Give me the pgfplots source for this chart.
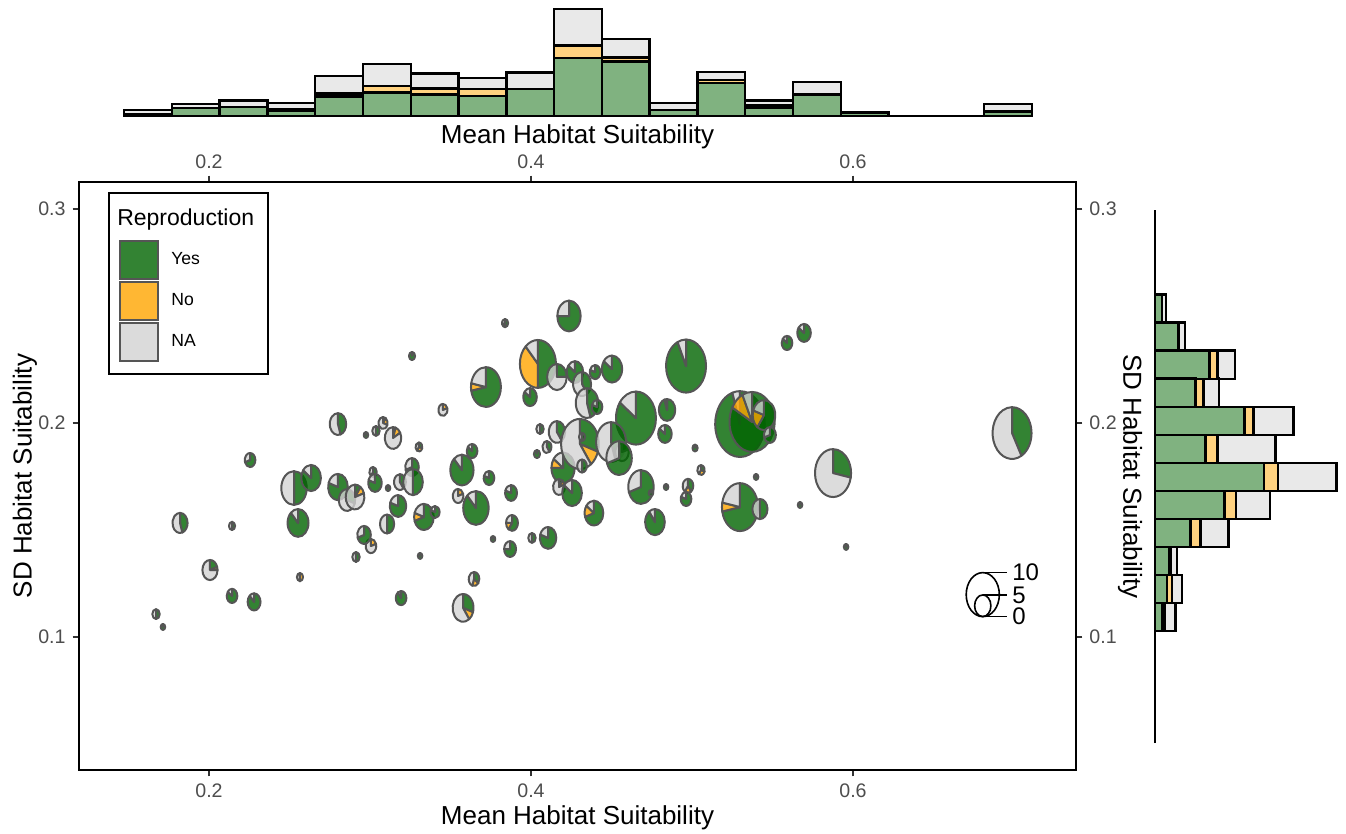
\documentclass[border=0pt]{standalone}
\usepackage{fontspec}
\setmainfont{Liberation Sans}
\usepackage{pgfplots}
\usepackage{pgfplotstable}
\pgfplotsset{compat=1.18}

\definecolor{cyes}{HTML}{006400}
\definecolor{cno}{HTML}{FFA500}
\definecolor{cna}{HTML}{D3D3D3}
\definecolor{hyes}{HTML}{80B280}
\definecolor{hno}{HTML}{FFD280}
\definecolor{hna}{HTML}{E9E9E9}
\definecolor{pieline}{HTML}{555555}
\definecolor{ticklab}{HTML}{4D4D4D}
\definecolor{tickcol}{HTML}{333333}

\pgfdeclareplotmark{pienone}{}
% one slice of an elliptic pie: start angle, end angle, colour
\newcommand\pieslice[3]{%
  \filldraw[fill=#3, fill opacity=0.8, draw=pieline, line width=1pt, line join=round]
    (0pt,0pt) -- (#1:\rx pt and \ry pt)
    arc[start angle=#1, end angle=#2, x radius=\rx pt, y radius=\ry pt] -- cycle;}
\def\pieparse#1/#2/#3\relax{\def\pr{#1}\def\pyes{#2}\def\pno{#3}}

% pies: centre x, y and radius/share Yes/share No (rest is NA)
\pgfplotstableread{
x y m
0.1671 0.1107 0.0023/0.5/0
0.1714 0.1047 0.0014/1/0
0.1820 0.1533 0.0047/0.45/0
0.2006 0.1313 0.0047/0.2/0.05
0.2143 0.1192 0.0033/0.85/0
0.2143 0.1519 0.0019/0.5/0
0.2280 0.1164 0.0040/0.88/0
0.2255 0.1827 0.0033/0.7/0
0.2528 0.1696 0.0079/0.5/0
0.2634 0.1743 0.0061/0.85/0
0.2553 0.1533 0.0065/0.88/0
0.2565 0.1280 0.0019/0/0.5
0.2801 0.1995 0.0051/0.45/0
0.2975 0.1944 0.0014/1/0
0.3037 0.1963 0.0023/0.5/0
0.3081 0.2000 0.0028/0.1/0.2
0.3143 0.1930 0.0051/0.05/0.12
0.3304 0.1888 0.0021/0.3/0.3
0.3261 0.2313 0.0019/1/0
0.2913 0.1374 0.0023/0.5/0
0.3006 0.1425 0.0033/0/0.2
0.2963 0.1477 0.0042/0.7/0
0.3106 0.1528 0.0044/0.5/0
0.3174 0.1612 0.0051/0.8/0
0.3335 0.1561 0.0061/0.7/0.1
0.3404 0.1584 0.0028/0.8/0
0.3193 0.1182 0.0033/0.9/0
0.3311 0.1379 0.0014/1/0
0.2801 0.1701 0.0061/0.8/0
0.2857 0.1640 0.0051/0.3/0
0.2907 0.1654 0.0058/0.1/0.1
0.3019 0.1771 0.0023/0.6/0
0.3031 0.1720 0.0042/0.8/0
0.3112 0.1696 0.0014/1/0
0.3186 0.1724 0.0037/0.4/0
0.3261 0.1794 0.0042/0.7/0
0.3267 0.1724 0.0061/0.5/0
0.3453 0.2061 0.0028/0/0.2
0.3839 0.2467 0.0019/0.5/0.2
0.4236 0.2500 0.0072/0.75/0
0.3720 0.2168 0.0093/0.72/0.06
0.4043 0.2276 0.0112/0.5/0.38
0.3994 0.2121 0.0042/0.85/0
0.4161 0.2215 0.0061/0.25/0
0.4273 0.2238 0.0051/0.85/0
0.4398 0.2238 0.0033/0.8/0
0.4503 0.2252 0.0063/0.85/0
0.4317 0.2182 0.0056/0.4/0
0.4348 0.2093 0.0070/0.45/0
0.4410 0.2075 0.0033/0.8/0
0.4652 0.2023 0.0124/0.85/0
0.4056 0.1972 0.0023/0.5/0
0.4161 0.1958 0.0051/0.4/0
0.4199 0.1790 0.0072/0.75/0.1
0.4304 0.1902 0.0117/0.3/0.1
0.4317 0.1935 0.0019/0.5/0
0.4497 0.1911 0.0093/0.45/0
0.4565 0.1864 0.0042/0.2/0
0.4547 0.1836 0.0079/0.7/0
0.4683 0.1701 0.0079/0.7/0
0.4317 0.1799 0.0030/0.5/0
0.4099 0.1888 0.0028/0.4/0
0.4037 0.1855 0.0019/1/0
0.4174 0.1701 0.0037/0.1/0.1
0.4255 0.1673 0.0061/0.85/0
0.4391 0.1579 0.0058/0.7/0.15
0.3571 0.1780 0.0072/0.88/0
0.3634 0.1869 0.0033/0.85/0
0.3739 0.1743 0.0033/0.8/0
0.3547 0.1659 0.0033/0/0.2
0.3658 0.1603 0.0079/0.88/0
0.3876 0.1673 0.0037/0.8/0
0.3882 0.1533 0.0037/0.6/0.15
0.3764 0.1458 0.0014/1/0
0.4006 0.1463 0.0023/0.5/0
0.4106 0.1463 0.0051/0.8/0
0.3870 0.1411 0.0037/0.75/0
0.3646 0.1271 0.0033/0.35/0.2
0.3578 0.1136 0.0065/0.3/0.1
0.4963 0.2266 0.0124/0.93/0
0.5696 0.2421 0.0042/0.85/0
0.5590 0.2374 0.0033/0.85/0
0.4845 0.2061 0.0051/0.95/0
0.4832 0.1949 0.0042/0.85/0
0.5298 0.1995 0.0154/0.95/0
0.5373 0.2005 0.0140/0.83/0.1
0.5447 0.2037 0.0070/0.6/0.2
0.5484 0.1944 0.0037/0.7/0
0.5876 0.1766 0.0112/0.28/0
0.5298 0.1607 0.0112/0.72/0.06
0.5422 0.1598 0.0047/0.5/0
0.5019 0.1883 0.0016/1/0
0.5056 0.1780 0.0023/0.3/0.3
0.5398 0.1748 0.0014/1/0
0.4975 0.1706 0.0033/0.4/0.2
0.4963 0.1645 0.0033/0.8/0
0.4839 0.1701 0.0014/1/0
0.4745 0.1673 0.0014/1/0
0.4770 0.1537 0.0061/0.9/0
0.5671 0.1617 0.0014/1/0
0.5957 0.1421 0.0014/1/0
0.6988 0.1953 0.0121/0.42/0
}\piedata

% marginal histogram of the mean (bin centre, Yes, No, NA heights)
\pgfplotstableread{
x yes no na
0.16204 2 0 4
0.19172 8 0 4
0.22141 9 0 6.3
0.25109 5 1.3 6.7
0.28077 19.3 3 17.7
0.31046 23.3 6.7 21.7
0.34014 21.3 6 15
0.36982 20 6.7 11.3
0.39951 26.7 0 16.7
0.42919 57.7 12.7 36.7
0.45887 54.3 4 18.7
0.48855 6 0 6.7
0.51824 32.7 3 8
0.54792 8.3 2 5
0.57760 21.3 0 12.7
0.60729 3.3 0 0
0.63697 0.01 0 0
0.66665 0.01 0 0
0.69634 4.3 0 7.7
}\histmean

% marginal histogram of the SD (bin centre, Yes, No, NA lengths)
\pgfplotstableread{
y yes no na
0.25346 7 0 4
0.24036 22.7 1 6.3
0.22725 54.3 8.3 17.3
0.21415 40.3 8 15.7
0.20105 89.3 9.3 39.7
0.18794 50.3 12.3 57.7
0.17484 108.7 14 58.7
0.16174 69.3 11.7 34
0.14864 35.3 10 28.3
0.13553 13.7 2.3 5.7
0.12243 12 4.7 10.3
0.10933 7 2.3 11
}\histsd

\pgfplotsset{
  mystyle/.style={
    scale only axis,
    /pgf/number format/assume math mode=true,
    tick label style={font=\fontsize{9.8}{11}\selectfont, text=ticklab},
    label style={font=\fontsize{13}{15}\selectfont},
  },
  histbar/.style={draw=black, line width=1.2pt},
}

\begin{document}
\begin{tikzpicture}
\useasboundingbox (0,0) rectangle (673pt,-417pt);

% top marginal histogram
\begin{axis}[mystyle,
  width=498.5pt, height=58pt, at={(39.5pt,-58pt)}, anchor=south west,
  xmin=0.11925, xmax=0.73851, ymin=0, ymax=116,
  axis line style={draw=none}, xtick=\empty, ytick=\empty, clip=false,
  ybar stacked, bar width=0.029683,
  xlabel={Mean Habitat Suitability},
  xlabel style={at={(axis description cs:0.5,-0.181)}, anchor=center},
]
\addplot[fill=hyes, histbar] table[x=x, y=yes] {\histmean};
\addplot[fill=hno, histbar] table[x=x, y=no] {\histmean};
\addplot[fill=hna, histbar] table[x=x, y=na] {\histmean};
\end{axis}

% right marginal histogram
\begin{axis}[mystyle,
  width=95.5pt, height=266.5pt, at={(577.5pt,-371.5pt)}, anchor=south west,
  xmin=0, xmax=191, ymin=0.05047, ymax=0.29953,
  axis x line=none, axis y line=left, xtick=\empty, ytick=\empty,
  y axis line style={-, black, line width=1pt},
  clip=false, xbar stacked, bar width=0.013103,
  ylabel={SD Habitat Suitability},
  ylabel style={at={(axis description cs:-0.131,0.5)}, rotate=180, anchor=center},
]
\addplot[fill=hyes, histbar] table[x=yes, y=y] {\histsd};
\addplot[fill=hno, histbar] table[x=no, y=y] {\histsd};
\addplot[fill=hna, histbar] table[x=na, y=y] {\histsd};
\end{axis}

% main panel
\begin{axis}[mystyle,
  width=498.5pt, height=294pt, at={(39.5pt,-385pt)}, anchor=south west,
  xmin=0.11925, xmax=0.73851, ymin=0.03785, ymax=0.31262,
  xtick={0.2,0.4,0.6}, ytick={0.1,0.2,0.3},
  tick align=outside, major tick length=3.2pt,
  tick style={tickcol, line width=0.6pt},
  axis line style={black, line width=1pt},
  xlabel={Mean Habitat Suitability}, ylabel={SD Habitat Suitability},
  xlabel style={at={(axis description cs:0.5,-0.0816)}, anchor=center},
  ylabel style={at={(axis description cs:-0.0542,0.5)}, anchor=center},
]
\addplot[scatter, only marks, mark=pienone, forget plot,
  point meta=explicit symbolic,
  scatter/@pre marker code/.code={%
    \expandafter\pieparse\pgfplotspointmeta\relax
    \pgfmathsetmacro\rx{805*\pr}%
    \pgfmathsetmacro\ry{1070*\pr}%
    \pgfmathsetmacro\aA{90-360*\pyes}%
    \pgfmathsetmacro\aB{\aA-360*\pno}%
    \ifdim\pyes pt>0.001pt \pieslice{90}{\aA}{cyes}\fi
    \ifdim\pno pt>0.001pt \pieslice{\aA}{\aB}{cno}\fi
    \ifdim\aB pt>-269.99pt \pieslice{\aB}{-270}{cna}\fi
  },
  scatter/@post marker code/.code={},
] table[x=x, y=y, meta=m] {\piedata};

% size legend of the pies
\addplot[scatter, only marks, mark=pienone, forget plot,
  point meta=explicit symbolic,
  scatter/@pre marker code/.code={%
    \pgfmathsetmacro\rx{805*\pgfplotspointmeta}%
    \pgfmathsetmacro\ry{1070*\pgfplotspointmeta}%
    \draw[black, line width=0.8pt] (0pt,0pt) ellipse[x radius=\rx pt, y radius=\ry pt];
  },
  scatter/@post marker code/.code={},
] table[x=x, y=y, meta=r] {
x y r
0.6806 0.1198 0.01028
0.6806 0.1146 0.00505
};
\addplot[black, line width=0.8pt, forget plot] coordinates {(0.6806,0.1301) (0.6957,0.1301)};
\addplot[black, line width=0.8pt, forget plot] coordinates {(0.6806,0.1196) (0.6957,0.1196)};
\addplot[black, line width=0.8pt, forget plot] coordinates {(0.6806,0.1095) (0.6957,0.1095)};
\addplot[only marks, mark=pienone, forget plot, nodes near coords,
  point meta=explicit symbolic,
  nodes near coords style={anchor=west, inner sep=1pt, text=black,
    font=\fontsize{12}{14}\selectfont}]
  table[x=x, y=y, meta=lab] {
x y lab
0.6975 0.1301 10
0.6975 0.1196 5
0.6975 0.1095 0
};
\end{axis}

% tick labels on the top and right of the main panel, and the legend
\begin{axis}[mystyle,
  width=498.5pt, height=294pt, at={(39.5pt,-385pt)}, anchor=south west,
  xmin=0.11925, xmax=0.73851, ymin=0.03785, ymax=0.31262,
  xtick={0.2,0.4,0.6}, ytick={0.1,0.2,0.3},
  xticklabel pos=upper, yticklabel pos=right,
  tick align=outside, major tick length=3.2pt,
  tick style={draw=none}, axis line style={draw=none},
  legend style={at={(axis description cs:0.0294,0.9835)}, anchor=north west,
    draw=black, line width=1pt, inner xsep=5pt, inner ysep=6pt,
    font=\fontsize{8.8}{10}\selectfont, row sep=0.5pt},
  legend cell align=left,
  legend image code/.code={%
    \draw[#1, draw=pieline, line width=1pt] (0pt,-9.5pt) rectangle (19pt,9.5pt);
    \path (23pt,0pt);},
]
\addlegendimage{legend image code/.code={\path[draw=none, fill=none] (0pt,-10pt) -- (23pt,4pt);}}
\addlegendentry{\hspace{-27pt}\fontsize{11.5}{13.8}\selectfont Reproduction}
\addlegendimage{fill=cyes, fill opacity=0.8}
\addlegendentry{Yes}
\addlegendimage{fill=cno, fill opacity=0.8}
\addlegendentry{No}
\addlegendimage{fill=cna, fill opacity=0.8}
\addlegendentry{NA}
\end{axis}
\end{tikzpicture}
\end{document}
